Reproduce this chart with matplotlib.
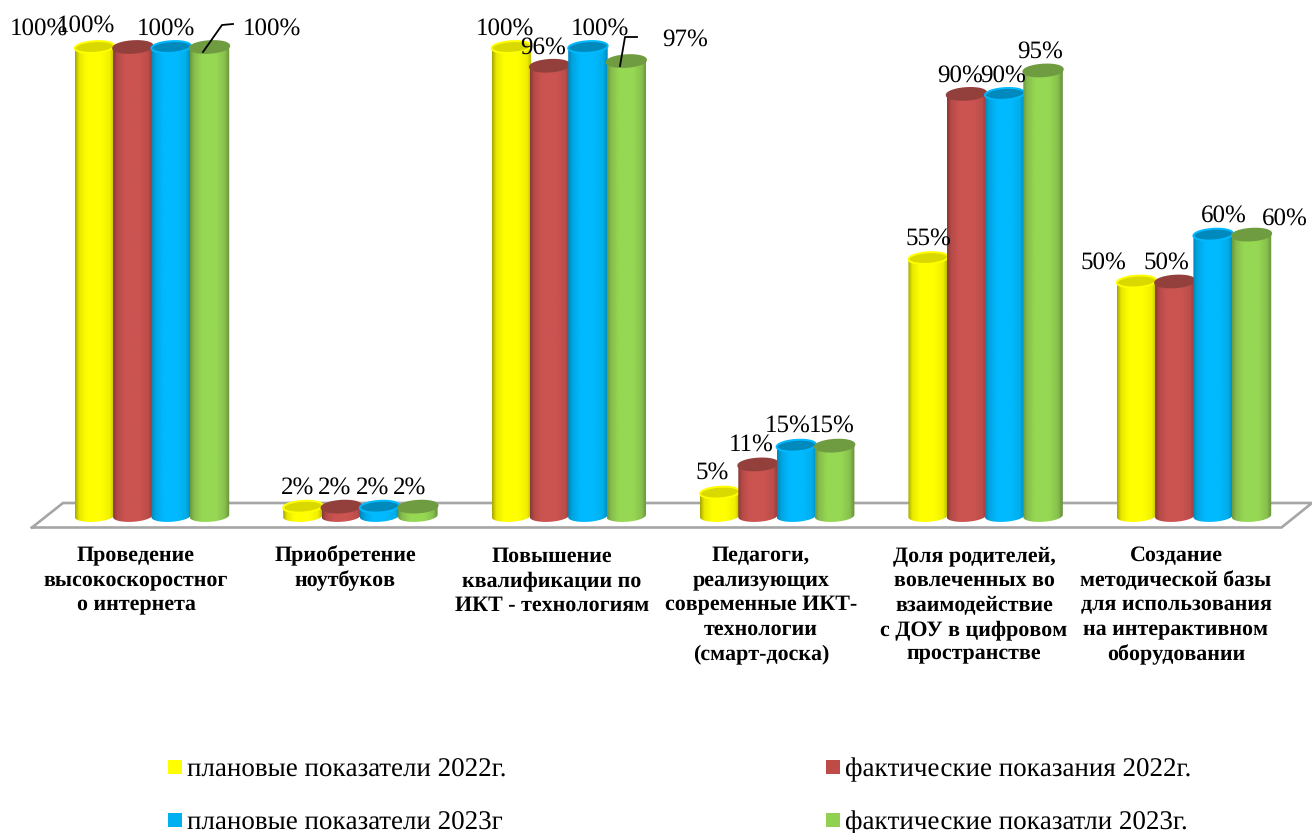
"""3D-style cylinder chart of ICT indicators, 2022 vs 2023."""

import numpy as np
import matplotlib

matplotlib.use("Agg")
import matplotlib.pyplot as plt
from matplotlib.patches import Polygon, Rectangle
from matplotlib.transforms import Affine2D

plt.rcParams["font.family"] = ["Liberation Serif", "DejaVu Serif"]
plt.rcParams["text.hinting"] = "no_hinting"
plt.rcParams["text.hinting_factor"] = 1

categories = [
    "Проведение\nвысокоскоростног\nо интернета",
    "Приобретение\nноутбуков",
    "Повышение\nквалификации по\nИКТ - технологиям",
    "Педагоги,\nреализующих\nсовременные ИКТ-\nтехнологии\n(смарт-доска)",
    "Доля родителей,\nвовлеченных во\nвзаимодействие\nс ДОУ в цифровом\nпространстве",
    "Создание\nметодической базы\nдля использования\nна интерактивном\nоборудовании",
]
series_names = [
    "плановые показатели 2022г.",
    "фактические показания 2022г.",
    "плановые показатели 2023г",
    "фактические показатли 2023г.",
]
plan_2022 = [100, 2, 100, 5, 55, 50]
fact_2022 = [100, 2, 96, 11, 90, 50]
plan_2023 = [100, 2, 100, 15, 90, 60]
fact_2023 = [100, 2, 97, 15, 95, 60]
series = [plan_2022, fact_2022, plan_2023, fact_2023]

# layout, all in reference pixels
W, H = 1312, 833
BASE_PX = 516
PX_PER_PCT = 4.69
GROUP_0_PX = 152
GROUP_STEP_PX = 208.4
BAR_STEP_PX = 38.3
BAR_W_PX = 39.5
CAP_H_PX = 5.8
CAP_TILT_PX = 1.2

# (left-edge, mid, mid, right-edge) shading across each cylinder
SHADES = [
    ["#a8a800", "#e8e800", "#ffff00", "#ffff00", "#f0f000", "#b8b800"],
    ["#8a3a38", "#b54a47", "#cb5451", "#cb5451", "#bd4e4b", "#8f3e3c"],
    ["#0086bb", "#00a4df", "#00b9ff", "#00b9ff", "#00aee8", "#0088bd"],
    ["#6d9a3e", "#86bd4c", "#96d853", "#96d853", "#88c04d", "#668f3a"],
]
CAP_COLORS = ["#d9d900", "#93403d", "#0089bd", "#6f9c40"]
RIM_COLORS = ["#ffff00", "#93403d", "#00b9ff", "#6f9c40"]
MARKER_COLORS = ["#ffff00", "#be4b48", "#00b0f0", "#92d050"]

label_xy = [
    [(39, 29), (298, 488), (505, 29), (712, 473), (928, 239), (1103, 263)],
    [(86, 26), (335, 488), (543, 48), (751, 445), (960, 76), (1166, 263)],
    [(166, 29), (373, 488), (600, 29), (788, 426), (1003, 76), (1224, 216)],
    [(272, 29), (410, 488), (685, 40), (832, 426), (1040, 52), (1285, 219)],
]
category_x = [136, 345, 552, 761, 974, 1176]
leaders = [[(203, 52), (222, 25), (233, 24)], [(620, 66), (625, 37), (637, 37)]]
legend_xy = [(168, 767), (826, 767), (168, 820), (826, 820)]
floor_px = [(32, 527.5), (63, 503), (1312, 503), (1281.5, 527.5), (32, 527.5)]


def hex_to_rgb(c):
    return np.array(matplotlib.colors.to_rgb(c))


def shade_strip(stops):
    rgb = np.array([hex_to_rgb(c) for c in stops])
    pos = [0, 0.1, 0.3, 0.65, 0.88, 1]
    t = np.linspace(0, 1, 64)
    return np.stack([np.interp(t, pos, rgb[:, k]) for k in range(3)], axis=-1)[None, :, :]


def arc(xc, half_w, value, start, stop):
    t = np.linspace(start, stop, 50)
    x = xc + half_w * np.cos(t)
    y = value + (CAP_H_PX * np.sin(t) + CAP_TILT_PX * np.cos(t)) / PX_PER_PCT
    return np.column_stack([x, y])


fig = plt.figure(figsize=(W / 100, H / 100), dpi=100)
ax = fig.add_axes([0, 0, 1, 1])
ax.axis("off")

# pixel coordinates of the reference, y pointing down
to_px = Affine2D().scale(1, -1).translate(0, H)

xs, ys = zip(*floor_px)
ax.plot(xs, ys, color="#a6a6a6", lw=1.9, transform=to_px, solid_joinstyle="miter", zorder=1)

group_x = np.arange(len(categories))
bar_w = BAR_W_PX / GROUP_STEP_PX
bar_step = BAR_STEP_PX / GROUP_STEP_PX

for j, values in enumerate(series):
    xpos = group_x + (j - 1.5) * bar_step
    bars = ax.bar(xpos, values, bar_w, color="none", zorder=2 + j)
    strip = shade_strip(SHADES[j])
    for xc, v, rect in zip(xpos, values, bars):
        half = bar_w / 2
        outline = np.vstack([arc(xc, half, 0, np.pi, 2 * np.pi), arc(xc, half, v, 0, np.pi)])
        body = Polygon(outline, closed=True, transform=ax.transData)
        im = ax.imshow(
            strip,
            extent=(xc - half, xc + half, -5, v + 5),
            aspect="auto",
            zorder=2 + j,
            interpolation="bilinear",
        )
        im.set_clip_path(body)
        cap = arc(xc, half, v, 0, 2 * np.pi)
        ax.add_patch(
            Polygon(cap, closed=True, facecolor=CAP_COLORS[j], edgecolor=RIM_COLORS[j],
                    lw=1.4, zorder=2 + j)
        )

ax.set_xlim(-GROUP_0_PX / GROUP_STEP_PX, (W - GROUP_0_PX) / GROUP_STEP_PX)
ax.set_ylim(-(H - BASE_PX) / PX_PER_PCT, BASE_PX / PX_PER_PCT)

for j, values in enumerate(series):
    for v, (lx, ly) in zip(values, label_xy[j]):
        ax.text(lx, ly, f"{v}%", transform=to_px, ha="center", va="center",
                fontsize=18.2, color="black", zorder=10)

for line in leaders:
    xs, ys = zip(*line)
    ax.plot(xs, ys, color="black", lw=1.3, transform=to_px, zorder=9)

for name, cx in zip(categories, category_x):
    for i, row in enumerate(name.split("\n")):
        ax.text(cx, 556 + i * 24.6, row, transform=to_px, ha="center", va="center",
                fontsize=15.5, fontweight="bold", color="black")

for name, color, (lx, ly) in zip(series_names, MARKER_COLORS, legend_xy):
    ax.add_patch(Rectangle((lx, ly - 7), 14, 14, facecolor=color, edgecolor="none", transform=to_px))
    ax.text(lx + 19, ly + 3, name, transform=to_px, ha="left", va="center",
            fontsize=19.5, color="black")

fig.savefig("out.png", dpi=100)
